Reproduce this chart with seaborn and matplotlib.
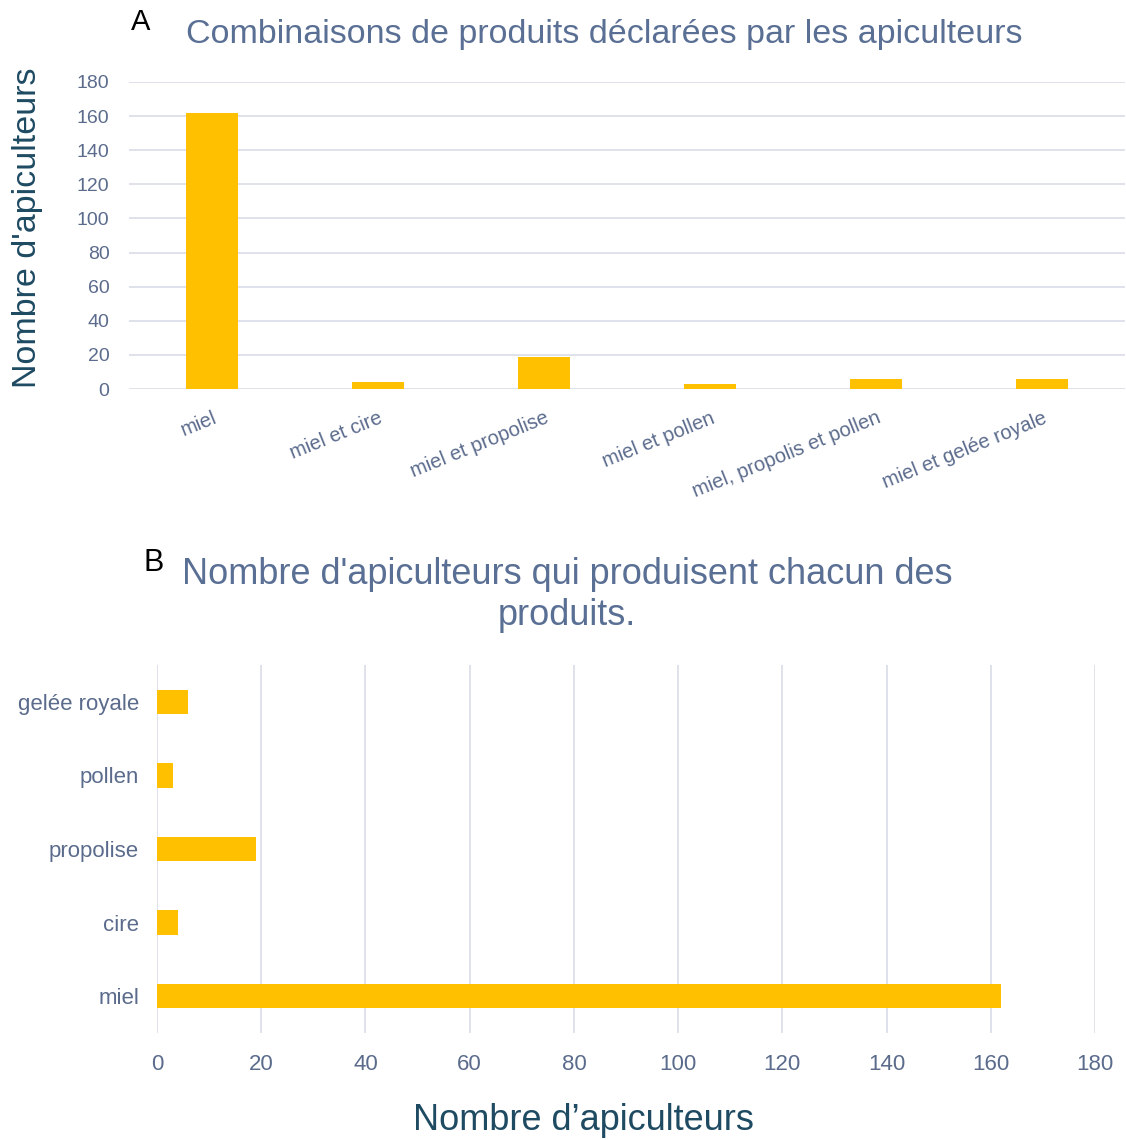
import matplotlib
matplotlib.use("Agg")
import matplotlib.pyplot as plt
import seaborn as sns
import pandas as pd

# Panel A data
combos = ["miel", "miel et cire", "miel et propolise", "miel et pollen",
          "miel, propolis et pollen", "miel et gelée royale"]
combo_counts = [162, 4, 19, 3, 6, 6]

# Panel B data
products = ["gelée royale", "pollen", "propolise", "cire", "miel"]
product_counts = [6, 3, 19, 4, 162]

sns.set_theme(style="white")
plt.rcParams['font.family'] = ['Liberation Sans', 'DejaVu Sans']

BAR = "#FFC000"
TICK = "#5b6b8c"
TITLE = "#5a6f94"
LABEL = "#1e4a62"
GRID = "#d9dde6"

fig = plt.figure(figsize=(11.26, 11.40), dpi=100)

# ---- Panel A ----
axA = fig.add_axes([129/1126, 1-389/1140, (1125-129)/1126, (389-82)/1140])
dfA = pd.DataFrame({"combo": combos, "n": combo_counts})
sns.barplot(data=dfA, x="combo", y="n", color=BAR, width=0.31, ax=axA,
            saturation=1, linewidth=0)
axA.set_xlim(-0.5, len(combos)-0.5)
axA.set_ylim(0, 180)
axA.set_yticks(range(0, 181, 20))
axA.yaxis.grid(True, color=GRID, linewidth=1.2)
axA.set_axisbelow(True)
for s in axA.spines.values():
    s.set_visible(False)
axA.tick_params(axis="both", length=0, colors=TICK)
axA.tick_params(axis="y", pad=14, labelsize=14)
axA.set_xlabel("")
axA.set_ylabel("")
plt.setp(axA.get_xticklabels(), rotation=22, ha="right", rotation_mode="anchor",
         fontsize=14.5)
axA.tick_params(axis="x", pad=14)
fig.text(28/1126, 1-228/1140, "Nombre d'apiculteurs", rotation=90,
         fontsize=24.5, color=LABEL, ha="center", va="center")
fig.text(186/1126, 1-35/1140, "Combinaisons de produits déclarées par les apiculteurs",
         fontsize=24.5, color=TITLE, ha="left", va="center")
fig.text(131/1126, 1-22/1140, "A", fontsize=21, color="black", ha="left", va="center")

# ---- Panel B ----
axB = fig.add_axes([157/1126, 1-1033/1140, (1095-157)/1126, (1033-665)/1140])
dfB = pd.DataFrame({"product": products, "n": product_counts})
sns.barplot(data=dfB, x="n", y="product", orient="h", color=BAR, width=0.33,
            ax=axB, saturation=1, linewidth=0)
axB.set_xlim(0, 180)
axB.set_ylim(len(products)-0.5, -0.5)
axB.set_xticks(range(0, 181, 20))
axB.xaxis.grid(True, color=GRID, linewidth=1.2)
axB.set_axisbelow(True)
for s in axB.spines.values():
    s.set_visible(False)
axB.tick_params(axis="both", length=0, colors=TICK, labelsize=16)
axB.tick_params(axis="x", pad=15)
axB.tick_params(axis="y", pad=13)
axB.set_ylabel("")
axB.set_xlabel("")
fig.text(583/1126, 1-1120/1140, "Nombre d’apiculteurs", fontsize=26,
         color=LABEL, ha="center", va="center")
fig.text(567/1126, 1-595/1140,
         "Nombre d'apiculteurs qui produisent chacun des\nproduits.",
         fontsize=26, color=TITLE, ha="center", va="center", linespacing=1.2)
fig.text(143/1126, 1-563/1140, "B", fontsize=22, color="black", ha="left", va="center")

fig.savefig("out.png", dpi=100, facecolor="white")
